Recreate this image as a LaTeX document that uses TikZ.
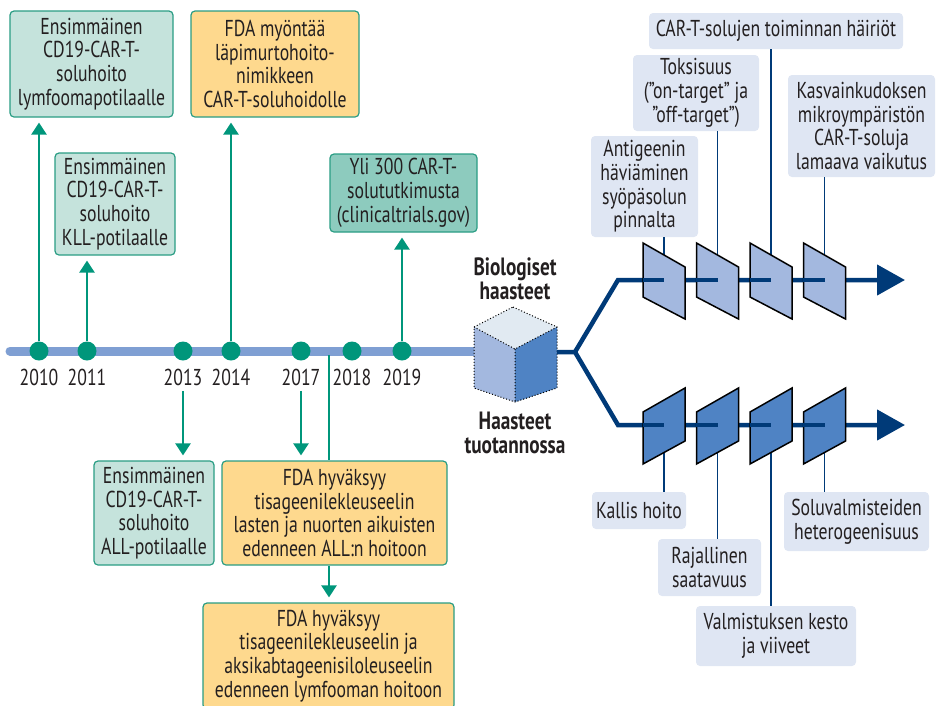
\documentclass[tikz,border=0pt]{standalone}
\usepackage{fontspec}
\setmainfont{PT Sans}[FakeStretch=0.77]
\usetikzlibrary{arrows.meta,positioning}
\definecolor{ink}{HTML}{231F20}
\definecolor{tealdot}{HTML}{00967B}
\definecolor{tealline}{HTML}{2A9D84}
\definecolor{tealpale}{HTML}{C5E3DC}
\definecolor{tealmid}{HTML}{8DCBBE}
\definecolor{orangepale}{HTML}{FED98E}
\definecolor{timeblue}{HTML}{7F9FD3}
\definecolor{navy}{HTML}{003A78}
\definecolor{plateup}{HTML}{A3B8DF}
\definecolor{platelo}{HTML}{4F83C4}
\definecolor{cubetop}{HTML}{E1EAF2}
\definecolor{labblue}{HTML}{DFE6F3}
\newcommand\boxfont{\fontsize{23}{23.7}\selectfont}
\newcommand\headfont{\fontsize{25}{24.5}\selectfont\bfseries}
\tikzset{
    %Define standard arrow tip
    >={Triangle[length=12pt,width=15pt]},
    %Define style for event boxes
    evbox/.style={
           rectangle,
           rounded corners=4pt,
           draw=tealline, line width=1.2pt,
           inner sep=0pt,
           align=center,
           text=ink,
           font=\boxfont},
    labbox/.style={
           rectangle,
           rounded corners=4pt,
           fill=labblue,
           inner sep=0pt,
           align=center,
           text=ink,
           font=\boxfont},
    dot/.style={
           circle,
           fill=tealdot,
           minimum size=19pt,
           inner sep=0pt},
    yr/.style={
           inner sep=0pt,
           text=ink,
           font=\boxfont},
    % Define arrow styles
    tarr/.style={
           ->,
           draw=tealdot,
           line width=2.5pt,
           shorten >=5pt},
    tline/.style={
           draw=tealdot,
           line width=2.5pt},
    route/.style={
           draw=navy,
           line width=4.5pt},
    routearr/.style={
           route,
           line join=miter,
           -{Triangle[length=28pt,width=30pt]}},
    thinline/.style={
           draw=navy,
           line width=1.5pt},
    plate/.style={
           draw=black,
           line width=1.5pt,
           line join=miter},
    cubeface/.style={
           draw=black,
           line width=1pt,
           dotted}
}
\begin{document}
\begin{tikzpicture}[x=1pt,y=-1pt]
  \useasboundingbox (0,0) rectangle (938,705);

  % timeline
  \coordinate (t2018) at (329,355);
  \draw[timeblue, line width=9pt, line cap=round] (10,351) -- (474,351);
  \foreach \yr/\x in {2010/39,2011/87,2013/183,2014/231,2017/301,2018/352,2019/402} {
    \node[dot] (d\yr) at (\x,351) {};
    \node[yr, below=8pt of d\yr] (y\yr) {\yr};
  }

  % events
  \node[evbox, fill=tealpale, minimum width=163pt, minimum height=106pt] (e2010) at (91.5,64)
    {Ensimmäinen\\CD19-CAR-T-\\soluhoito\\lymfoomapotilaalle};
  \node[evbox, fill=orangepale, minimum width=168pt, minimum height=106pt] (e2014) at (275,64)
    {FDA myöntää\\läpimurtohoito-\\nimikkeen\\CAR-T-soluhoidolle};
  \node[evbox, fill=tealpale, minimum width=120pt, minimum height=102pt] (e2011) at (115,204)
    {Ensimmäinen\\CD19-CAR-T-\\soluhoito\\KLL-potilaalle};
  \node[evbox, fill=tealmid, minimum width=147pt, minimum height=78pt] (e2019) at (403.5,193)
    {Yli 300 CAR-T-\\solututkimusta\\(clinicaltrials.gov)};
  \node[evbox, fill=tealpale, minimum width=120pt, minimum height=104pt] (e2013) at (154,513)
    {Ensimmäinen\\CD19-CAR-T-\\soluhoito\\ALL-potilaalle};
  \node[evbox, fill=orangepale, minimum width=225pt, minimum height=104pt] (e2017) at (334.5,513)
    {FDA hyväksyy\\tisageenilekleuseelin\\lasten ja nuorten aikuisten\\edenneen ALL:n hoitoon};
  \node[evbox, fill=orangepale, minimum width=251pt, minimum height=106pt] (e2018) at (328.5,656)
    {FDA hyväksyy\\tisageenilekleuseelin ja\\aksikabtageenisiloleuseelin\\edenneen lymfooman hoitoon};

  \draw[tarr] (d2010.north) -- (d2010 |- e2010.south);
  \draw[tarr] (d2011.north) -- (d2011 |- e2011.south);
  \draw[tarr] (d2014.north) -- (d2014 |- e2014.south);
  \draw[tarr] (d2019.north) -- (d2019 |- e2019.south);
  \draw[tarr, shorten <=5pt] (y2013.south) -- (y2013.south |- e2013.north);
  \draw[tarr, shorten <=5pt] (y2017.south) -- (y2017.south |- e2017.north);
  \draw[tline] (t2018) -- (t2018 |- e2017.north);
  \draw[tarr] (t2018 |- e2017.south) -- (t2018 |- e2018.north);

  % cube
  \coordinate (c-top) at (513,307);
  \coordinate (c-lt) at (474,327);
  \coordinate (c-rt) at (557,327);
  \coordinate (c-mid) at (515,349);
  \coordinate (c-lb) at (474,388);
  \coordinate (c-bot) at (515,402);
  \coordinate (c-rb) at (557,388);
  \fill[cubetop] (c-top) -- (c-rt) -- (c-mid) -- (c-lt) -- cycle;
  \fill[plateup] (c-lt) -- (c-mid) -- (c-bot) -- (c-lb) -- cycle;
  \fill[platelo] (c-mid) -- (c-rt) -- (c-rb) -- (c-bot) -- cycle;
  \draw[cubeface] (c-top) -- (c-rt) -- (c-rb) -- (c-bot) -- (c-lb) -- (c-lt) -- cycle
    (c-lt) -- (c-mid) -- (c-rt) (c-mid) -- (c-bot);
  \node[yr, font=\headfont, align=center] (bio) at (515,279) {Biologiset\\haasteet};
  \node[yr, font=\headfont, align=center] (prod) at (515,433) {Haasteet\\tuotannossa};

  % branches
  \coordinate (fork) at (575,352);
  \coordinate (up-knee) at (618,280);
  \coordinate (lo-knee) at (618,425);
  \coordinate (up-end) at (905,280);
  \coordinate (lo-end) at (905,425);
  \draw[routearr] (c-rt |- fork) -- (fork) -- (up-knee) -- (up-end);
  \draw[routearr] (fork) -- (lo-knee) -- (lo-end);

  % challenge labels
  \node[labbox, minimum width=254pt, minimum height=36pt] (func) at (776,31)
    {CAR-T-solujen toiminnan häiriöt};
  \node[labbox, minimum width=126pt, minimum height=76pt] (tox) at (696,93)
    {Toksisuus\\(”on-target” ja\\”off-target”)};
  \node[labbox, minimum width=107pt, minimum height=101pt] (antig) at (644.5,186.5)
    {Antigeenin\\häviäminen\\syöpäsolun\\pinnalta};
  \node[labbox, minimum width=147pt, minimum height=102pt] (tme) at (861.5,126)
    {Kasvainkudoksen\\mikroympäristön\\CAR-T-soluja\\lamaava vaikutus};
  \node[labbox, minimum width=94pt, minimum height=37pt] (cost) at (639,510.5)
    {Kallis hoito};
  \node[labbox, minimum width=103pt, minimum height=57pt] (avail) at (709.5,567.5)
    {Rajallinen\\saatavuus};
  \node[labbox, minimum width=160pt, minimum height=60pt] (delay) at (776,636)
    {Valmistuksen kesto\\ja viiveet};
  \node[labbox, minimum width=145pt, minimum height=59pt] (hetero) at (856.5,521.5)
    {Soluvalmisteiden\\heterogeenisuus};

  \foreach \i/\cx in {1/664,2/717.5,3/771,4/824.5} {
    \coordinate (up\i) at (\cx,280);
    \coordinate (lo\i) at (\cx,425);
  }
  \draw[thinline] (up1 |- antig.south) -- (up1);
  \draw[thinline] (up2 |- tox.south) -- (up2);
  \draw[thinline] (up3 |- func.south) -- (up3);
  \draw[thinline] (up4 |- tme.south) -- (up4);
  \draw[thinline] (lo1 |- cost.north) -- (lo1);
  \draw[thinline] (lo2 |- avail.north) -- (lo2);
  \draw[thinline] (lo3 |- delay.north) -- (lo3);
  \draw[thinline] (lo4 |- hetero.north) -- (lo4);

  % gates
  \foreach \i in {1,...,4} {
    \draw[plate, fill=plateup, shift={(up\i)}] (-21,-37) -- (21,-13) -- (21,39) -- (-21,17) -- cycle;
    \draw[route] ([xshift=-21.5pt]up\i) -- (up\i);
    \draw[plate, fill=platelo, shift={(lo\i)}] (-21,-13) -- (21,-37) -- (21,16) -- (-21,39) -- cycle;
    \draw[route] ([xshift=-21.5pt]lo\i) -- (lo\i);
  }
\end{tikzpicture}
\end{document}
